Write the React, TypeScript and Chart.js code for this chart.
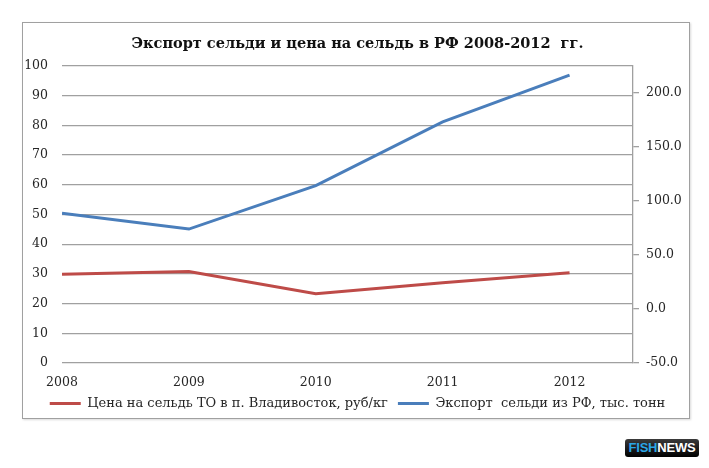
import React, { useEffect, useRef } from "react";
import { Chart, registerables } from "chart.js";

Chart.register(...registerables);

const years = [2008, 2009, 2010, 2011, 2012];
const priceValues = [29.9, 30.8, 23.3, 27.0, 30.4];
const exportValues = [88.6, 74.0, 114.3, 173.2, 216.6];
const leftTicks = [0, 10, 20, 30, 40, 50, 60, 70, 80, 90, 100];
const rightTicks = [-50, 0, 50, 100, 150, 200];
const priceLabel = "Цена на сельдь ТО в п. Владивосток, руб/кг";
const exportLabel = "Экспорт  сельди из РФ, тыс. тонн";
const titleText = "Экспорт сельди и цена на сельдь в РФ 2008-2012  гг.";

const FONT = "'DejaVu Serif', 'Liberation Serif', serif";
const TEXT = "#262626";
const GRID = "#a0a0a0";

export default function App() {
  const ref = useRef<HTMLCanvasElement | null>(null);

  useEffect(() => {
    if (!ref.current) return;
    const chart = new Chart(ref.current, {
      type: "line",
      data: {
        datasets: [
          {
            label: priceLabel,
            data: years.map((y, i) => ({ x: y, y: priceValues[i] })),
            borderColor: "#BE4B48",
            backgroundColor: "#BE4B48",
            borderWidth: 3,
            pointRadius: 0,
            tension: 0,
            yAxisID: "yL",
          },
          {
            label: exportLabel,
            data: years.map((y, i) => ({ x: y, y: exportValues[i] })),
            borderColor: "#4A7EBB",
            backgroundColor: "#4A7EBB",
            borderWidth: 3,
            pointRadius: 0,
            tension: 0,
            yAxisID: "yR",
          },
        ],
      },
      options: {
        responsive: false,
        animation: false,
        layout: { padding: { top: 0, left: 6, right: 0, bottom: 48 } },
        plugins: {
          tooltip: { enabled: false },
          title: {
            display: true,
            text: titleText,
            color: "#111",
            font: { family: FONT, size: 14.5, weight: "bold", lineHeight: 1.2 },
            padding: { top: 36, bottom: 12.6 },
          },
          legend: {
            position: "bottom",
            labels: {
              color: TEXT,
              font: { family: FONT, size: 13 },
              boxWidth: 31,
              boxHeight: 3,
              padding: 10,
              generateLabels: (c: any) => {
                const items = Chart.defaults.plugins.legend.labels.generateLabels(c);
                return items.map((it: any) => ({ ...it, lineWidth: 0 }));
              },
            },
          },
        },
        scales: {
          x: {
            type: "linear",
            min: 2008,
            max: 2012.5,
            afterBuildTicks: (s: any) => {
              s.ticks = years.map((v) => ({ value: v }));
            },
            afterFit: (s: any) => {
              s.height = 24;
            },
            grid: { display: false, drawTicks: false },
            border: { display: false },
            ticks: {
              color: TEXT,
              font: { family: FONT, size: 12.5 },
              padding: 12,
              maxRotation: 0,
              autoSkip: false,
              callback: (v: any) => String(v),
            },
          },
          yL: {
            type: "linear",
            position: "left",
            min: 0,
            max: 100,
            afterBuildTicks: (s: any) => {
              s.ticks = leftTicks.map((v) => ({ value: v }));
            },
            afterFit: (s: any) => {
              s.width = 56;
            },
            grid: { color: GRID, lineWidth: 1.3, drawTicks: false },
            border: { display: false },
            ticks: {
              color: TEXT,
              font: { family: FONT, size: 12.5 },
              padding: 14,
              callback: (v: any) => String(v),
            },
          },
          yR: {
            type: "linear",
            position: "right",
            min: -50,
            max: 225,
            afterBuildTicks: (s: any) => {
              s.ticks = rightTicks.map((v) => ({ value: v }));
            },
            afterFit: (s: any) => {
              s.width = 76;
            },
            grid: {
              drawOnChartArea: false,
              drawTicks: true,
              tickLength: 6,
              color: GRID,
              lineWidth: 1.3,
            },
            border: { display: true, color: GRID, width: 1.3 },
            ticks: {
              color: TEXT,
              font: { family: FONT, size: 12.5 },
              padding: 7,
              callback: (v: any) => Number(v).toFixed(1),
            },
          },
        },
      },
    });
    return () => chart.destroy();
  }, []);

  return (
    <div
      style={{
        position: "fixed",
        left: 0,
        top: 0,
        width: 709,
        height: 468,
        background: "#fff",
        overflow: "hidden",
      }}
    >
      <div
        style={{
          position: "absolute",
          left: 22,
          top: 22,
          width: 666,
          height: 395,
          border: "1px solid #a0a0a0",
          boxShadow: "1px 1px 2px rgba(0,0,0,0.15)",
        }}
      />
      <canvas
        ref={ref}
        width={709}
        height={468}
        style={{ position: "absolute", left: 0, top: 0, width: 709, height: 468 }}
      />
      <div
        style={{
          position: "absolute",
          left: 625,
          top: 439,
          width: 74,
          height: 18,
          borderRadius: 3,
          background: "linear-gradient(#3a3a3a, #000)",
          fontFamily: "'Liberation Sans Narrow', 'Liberation Sans', Arial, sans-serif",
          fontWeight: "bold",
          fontSize: 13,
          lineHeight: "18px",
          textAlign: "center",
          letterSpacing: -0.2,
        }}
      >
        <span style={{ color: "#2aa6e6" }}>FISH</span>
        <span style={{ color: "#fff" }}>NEWS</span>
      </div>
    </div>
  );
}
